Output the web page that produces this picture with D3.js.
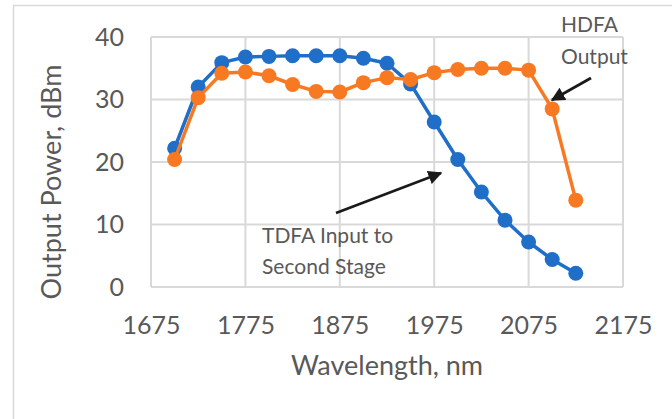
<!DOCTYPE html>
<html><head><meta charset="utf-8">
<script src="https://cdn.jsdelivr.net/npm/d3@7"></script>
<style>html,body{margin:0;padding:0;background:#fff;}svg{display:block;}</style>
</head><body><svg id="c" width="672" height="419"></svg>
<script>
const wavelengths = [1700,1725,1750,1775,1800,1825,1850,1875,1900,1925,1950,1975,2000,2025,2050,2075,2100,2125];
const tdfaInput = [22.2,32.0,35.9,36.8,36.9,37.0,37.0,37.0,36.6,35.8,32.5,26.4,20.4,15.2,10.7,7.2,4.4,2.2];
const hdfaOutput = [20.4,30.3,34.2,34.4,33.8,32.4,31.3,31.2,32.7,33.5,33.2,34.3,34.8,35.0,35.0,34.7,28.5,13.9];
const xTicks = [1675,1775,1875,1975,2075,2175];
const yTicks = [0,10,20,30,40];
const xTitle = "Wavelength, nm";
const yTitle = "Output Power, dBm";
const noteTdfa = ["TDFA Input to","Second Stage"];
const noteHdfa = ["HDFA","Output"];

const svg = d3.select("#c");
const font = "Lato, 'Open Sans', sans-serif";
const textCol = "#595959";
const x = d3.scaleLinear().domain([1675,2175]).range([151,623]);
const y = d3.scaleLinear().domain([0,40]).range([287,37]);

// chart frame
svg.append("path").attr("d","M13.5,430 V5.5 H680").attr("fill","none").attr("stroke","#d9d9d9").attr("stroke-width",1.5);

// grid
const grid = svg.append("g").attr("stroke","#d9d9d9").attr("stroke-width",2);
grid.selectAll(".h").data(yTicks).join("line").attr("x1",x(1675)).attr("x2",x(2175)).attr("y1",d=>y(d)).attr("y2",d=>y(d));
grid.selectAll(".v").data(xTicks).join("line").attr("y1",y(0)).attr("y2",y(40)).attr("x1",d=>x(d)).attr("x2",d=>x(d));

// axes (labels only)
const xAxis = svg.append("g").attr("transform",`translate(0,${y(0)})`).call(d3.axisBottom(x).tickValues(xTicks).tickFormat(d3.format("d")).tickSize(0).tickPadding(29));
const yAxis = svg.append("g").attr("transform",`translate(${x(1675)},0)`).call(d3.axisLeft(y).tickValues(yTicks).tickSize(0).tickPadding(27));
[xAxis,yAxis].forEach(a=>{a.select(".domain").remove();a.selectAll("text").attr("fill",textCol).attr("font-family",font).attr("font-size",25);});

svg.append("text").attr("x",387).attr("y",375).attr("text-anchor","middle").attr("fill",textCol).attr("font-family",font).attr("font-size",27).text(xTitle);
svg.append("text").attr("transform","translate(61,182) rotate(-90)").attr("text-anchor","middle").attr("fill",textCol).attr("font-family",font).attr("font-size",27).text(yTitle);

// series
const series = [{v:tdfaInput,c:"#1f6fc9"},{v:hdfaOutput,c:"#f77a22"}];
const line = d3.line().x(d=>x(d[0])).y(d=>y(d[1]));
series.forEach(s=>{
  const pts = wavelengths.map((w,i)=>[w,s.v[i]]);
  svg.append("path").attr("d",line(pts)).attr("fill","none").attr("stroke",s.c).attr("stroke-width",3.5).attr("stroke-linejoin","round");
  svg.append("g").selectAll("circle").data(pts).join("circle").attr("cx",d=>x(d[0])).attr("cy",d=>y(d[1])).attr("r",7.5).attr("fill",s.c);
});

// annotations
const defs = svg.append("defs");
defs.append("marker").attr("id","ah").attr("viewBox","0 0 10 10").attr("refX",9).attr("refY",5).attr("markerWidth",5).attr("markerHeight",5).attr("orient","auto")
  .append("path").attr("d","M0,0 L10,5 L0,10 Z").attr("fill","#1a1a1a");
svg.append("line").attr("x1",336).attr("y1",213).attr("x2",441).attr("y2",173).attr("stroke","#1a1a1a").attr("stroke-width",2.8).attr("marker-end","url(#ah)");
svg.append("line").attr("x1",591).attr("y1",78).attr("x2",552).attr("y2",100).attr("stroke","#1a1a1a").attr("stroke-width",2.8).attr("marker-end","url(#ah)");

const t1 = svg.append("text").attr("fill",textCol).attr("font-family",font).attr("font-size",21);
noteTdfa.forEach((s,i)=>t1.append("tspan").attr("x",262).attr("y",243+i*31).text(s));
const t2 = svg.append("text").attr("fill",textCol).attr("font-family",font).attr("font-size",21);
noteHdfa.forEach((s,i)=>t2.append("tspan").attr("x",561).attr("y",32+i*32).text(s));
</script></body></html>
